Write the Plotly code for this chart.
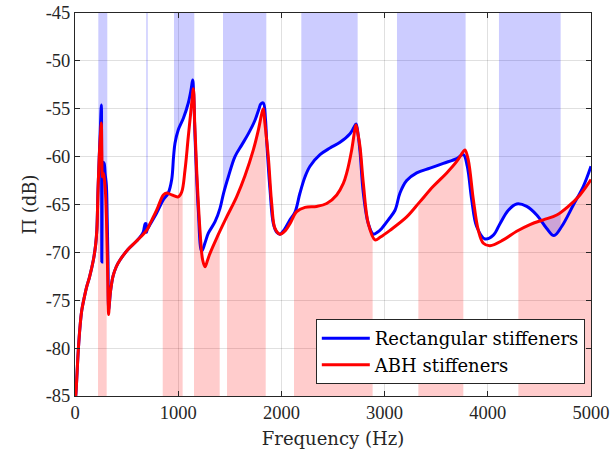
import numpy as np
import plotly.graph_objects as go

# Radiated power level, rectangular stiffeners
freq_rect = [3, 10, 20, 32, 50, 65, 90, 113, 140, 178, 200, 212, 223, 235, 245, 251, 255, 258, 260, 262,
             265, 272, 282, 292, 304, 312, 320, 326, 332, 345, 368, 400, 436, 513, 598, 660, 680, 688, 693,
             700, 727, 791, 856, 904, 937, 955, 969, 1001, 1050, 1098, 1125, 1140, 1150, 1163, 1195, 1227,
             1260, 1292, 1357, 1405, 1440, 1486, 1550, 1615, 1680, 1744, 1783, 1800, 1825, 1845, 1857, 1890,
             1922, 1955, 1986, 2030, 2083, 2132, 2180, 2229, 2277, 2374, 2471, 2568, 2665, 2700, 2723, 2742,
             2762, 2794, 2842, 2891, 2930, 2972, 3036, 3101, 3149, 3214, 3311, 3440, 3569, 3699, 3763, 3801,
             3844, 3892, 3973, 4054, 4118, 4199, 4280, 4377, 4474, 4571, 4641, 4716, 4829, 4926, 5000]
db_rect = [-85.5, -84.6, -82.6, -80.2, -77.6, -76.1, -74.7, -73.6, -72.6, -70.8, -69.2, -67.6, -63.5, -60.0,
           -57.3, -55.5, -54.6, -62.0, -71.0, -67.0, -61.5, -60.6, -60.7, -61.8, -63.0, -66.5, -71.0, -76.0,
           -75.5, -74.0, -72.5, -71.5, -70.8, -69.7, -68.8, -67.9, -67.0, -67.0, -67.9, -67.6, -67.1, -65.9,
           -64.5, -63.8, -62.4, -60.0, -58.6, -57.2, -56.0, -54.4, -53.0, -52.0, -53.5, -57.9, -65.6, -69.9,
           -69.0, -68.0, -66.8, -65.4, -63.8, -62.1, -60.0, -58.8, -57.6, -56.2, -55.0, -54.5, -54.4, -56.0,
           -58.3, -63.5, -67.0, -67.9, -68.1, -67.6, -66.6, -65.8, -63.8, -62.1, -61.0, -59.8, -59.1, -58.5,
           -57.6, -57.0, -56.6, -57.6, -59.5, -63.8, -67.0, -68.1, -67.9, -67.5, -66.6, -65.6, -63.8, -62.5,
           -61.7, -61.2, -60.7, -60.2, -59.8, -61.0, -64.5, -67.3, -68.6, -68.2, -67.0, -65.6, -64.95, -65.2,
           -66.1, -67.5, -68.25, -67.3, -65.05, -63.1, -61.0]

# Radiated power level, ABH stiffeners
freq_abh = [3, 10, 20, 32, 50, 65, 90, 113, 140, 178, 200, 212, 223, 235, 245, 251, 255, 260, 265, 272, 280,
            294, 305, 315, 326, 332, 345, 368, 400, 436, 513, 598, 694, 727, 791, 856, 888, 937, 1001, 1034,
            1066, 1098, 1131, 1147, 1160, 1179, 1211, 1237, 1260, 1285, 1308, 1373, 1470, 1566, 1647, 1728,
            1777, 1810, 1825, 1840, 1873, 1906, 1938, 1986, 2040, 2083, 2148, 2229, 2342, 2439, 2536, 2600,
            2633, 2681, 2710, 2723, 2740, 2762, 2794, 2842, 2907, 2960, 3052, 3214, 3343, 3472, 3602, 3699,
            3760, 3779, 3811, 3860, 3908, 3957, 4021, 4150, 4280, 4409, 4538, 4668, 4780, 4893, 5000]
db_abh = [-85.5, -84.6, -82.6, -80.2, -77.6, -76.1, -74.7, -73.6, -72.6, -70.8, -69.2, -67.6, -63.5, -60.0,
          -58.0, -57.0, -56.5, -59.5, -62.1, -61.7, -62.0, -63.5, -66.5, -71.5, -76.5, -75.5, -74.0, -72.5,
          -71.5, -70.8, -69.7, -68.8, -67.7, -67.0, -65.6, -64.0, -63.8, -64.0, -64.2, -63.7, -61.4, -57.9,
          -54.4, -52.9, -56.5, -61.4, -67.7, -70.8, -71.5, -70.8, -70.1, -68.5, -66.3, -64.2, -62.0, -59.3,
          -57.2, -55.5, -55.0, -56.5, -60.0, -64.9, -67.5, -68.1, -67.7, -67.0, -65.75, -65.3, -65.2, -64.9,
          -64.0, -62.8, -61.7, -59.3, -57.3, -56.7, -57.5, -59.0, -62.8, -67.0, -68.7, -68.4, -67.7, -66.3,
          -64.7, -63.1, -61.7, -60.5, -59.5, -59.3, -60.35, -64.5, -67.7, -69.05, -69.3, -68.7, -67.8, -67.1,
          -66.6, -66.1, -65.2, -64.0, -62.4]

# Frequency bands highlighted for each configuration (Hz)
bands_rect = [(226, 313), (690, 705), (959, 1156), (1434, 1854), (2193, 2739), (3120, 3785), (4108, 4706)]
bands_abh = [(223, 307), (850, 1043), (1153, 1402), (1473, 1848), (2122, 2884), (3327, 3763), (4296, 5000)]

x_ticks = [0, 1000, 2000, 3000, 4000, 5000]
y_ticks = [-85, -80, -75, -70, -65, -60, -55, -50, -45]
y_ticklabels = ["-85", "-80", "-75", "-70", "-65", "-60", "-55", "-50", "-45"]

Y_MIN, Y_MAX = -85, -45
TEXT_FONT = "DejaVu Serif"
TICK_FONT = "Liberation Serif"
INK = "#262626"
SHAPE = "spline"


def band_segment(freq, db, lo, hi):
    f = np.asarray(freq, float)
    d = np.asarray(db, float)
    inside = (f > lo) & (f < hi)
    fx = np.concatenate([[lo], f[inside], [hi]])
    dy = np.concatenate([[np.interp(lo, f, d)], d[inside], [np.interp(hi, f, d)]])
    return fx, dy


fig = go.Figure()


def add_band(freq, db, lo, hi, edge, fillcolor):
    fx, dy = band_segment(freq, db, lo, hi)
    fig.add_trace(go.Scatter(x=[lo, hi], y=[edge, edge], mode="lines", line=dict(width=0),
                             showlegend=False, hoverinfo="skip"))
    fig.add_trace(go.Scatter(x=fx, y=dy, mode="lines", line=dict(width=0, shape=SHAPE),
                             fill="tonexty", fillcolor=fillcolor, showlegend=False, hoverinfo="skip"))


for lo, hi in bands_abh:
    add_band(freq_abh, db_abh, lo, hi, Y_MIN, "rgba(255,0,0,0.2)")
for lo, hi in bands_rect:
    add_band(freq_rect, db_rect, lo, hi, Y_MAX, "rgba(0,0,255,0.2)")

fig.add_trace(go.Scatter(x=freq_rect, y=db_rect, mode="lines", name="Rectangular stiffeners",
                         line=dict(color="#0000ff", width=3, shape=SHAPE)))
fig.add_trace(go.Scatter(x=freq_abh, y=db_abh, mode="lines", name="ABH stiffeners",
                         line=dict(color="#ff0000", width=3, shape=SHAPE)))

axis_common = dict(
    showline=True, linecolor=INK, linewidth=1, mirror="allticks",
    ticks="inside", ticklen=5, tickcolor=INK,
    showgrid=True, gridcolor="rgba(0,0,0,0.12)", gridwidth=1,
    zeroline=False, automargin=False,
    tickfont=dict(family=TICK_FONT, size=18.5, color=INK),
)

fig.update_xaxes(range=[0, 5000], tickvals=x_ticks, ticktext=[str(v) for v in x_ticks],
                 title=dict(text="Frequency (Hz)", font=dict(family=TEXT_FONT, size=18, color=INK), standoff=10),
                 **axis_common)
fig.update_yaxes(range=[Y_MIN, Y_MAX], tickvals=y_ticks, ticktext=y_ticklabels,
                 title=dict(text="Π (dB)", font=dict(family=TEXT_FONT, size=18, color=INK), standoff=4),
                 **axis_common)

fig.update_layout(
    width=613, height=460,
    margin=dict(l=75, r=22, t=13, b=64),
    paper_bgcolor="white", plot_bgcolor="white",
    showlegend=True,
    legend=dict(x=0.988, y=0.031, xanchor="right", yanchor="bottom",
                bgcolor="white", bordercolor=INK, borderwidth=1,
                font=dict(family=TEXT_FONT, size=18, color="black"),
                traceorder="normal", tracegroupgap=0, itemwidth=48),
)

fig.write_html("out.html")
